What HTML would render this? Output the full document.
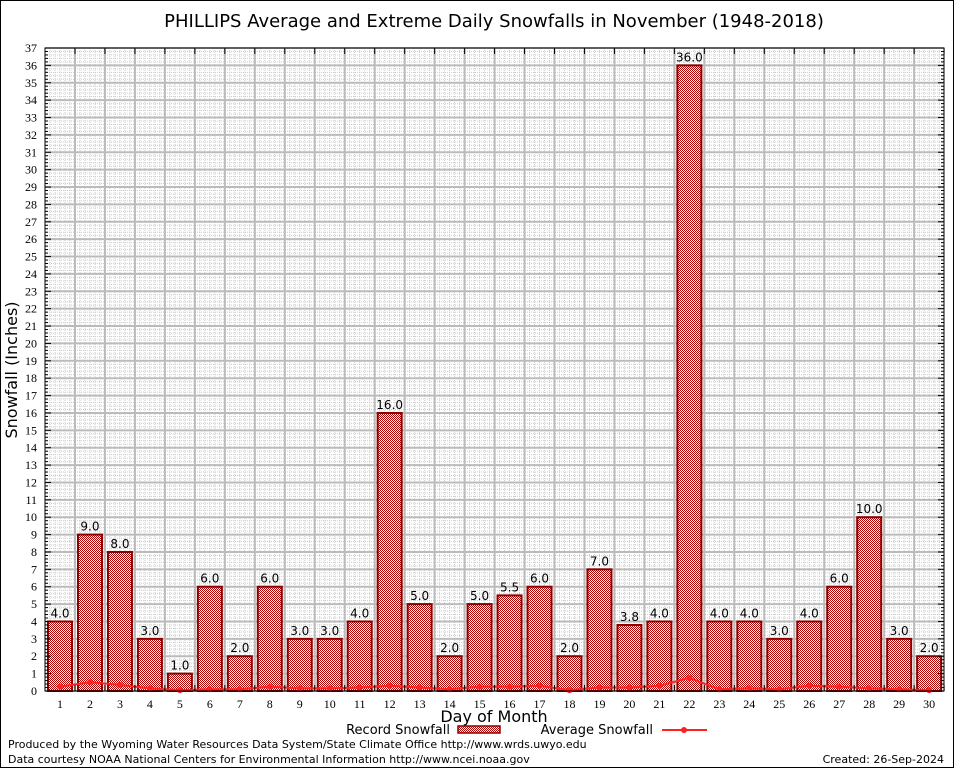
<!DOCTYPE html>
<html><head><meta charset="utf-8"><style>
body{margin:0;background:#fff}
svg text{font-family:"DejaVu Sans","Liberation Sans",sans-serif}
</style></head><body>
<svg id="c" width="954" height="768" xmlns="http://www.w3.org/2000/svg">
<defs>
<pattern id="hatch" width="2" height="2" patternUnits="userSpaceOnUse">
<rect width="2" height="2" fill="#fff"/><rect width="1" height="1" fill="#b00000"/><rect x="1" y="1" width="1" height="1" fill="#b00000"/>
</pattern>
</defs>
<rect x="0.5" y="0.5" width="953" height="767" fill="#fff" stroke="#000"/>
<text x="494" y="27" font-size="18" text-anchor="middle">PHILLIPS Average and Extreme Daily Snowfalls in November (1948-2018)</text>
<g id="grid"></g>
<g id="bars"></g>
<g id="avg"></g>
<g id="axes"></g>
<text x="17" y="370" font-size="16" text-anchor="middle" transform="rotate(-90 17 370)">Snowfall (Inches)</text>
<text x="494" y="722" font-size="16" text-anchor="middle">Day of Month</text>
<g>
<text x="450" y="734" font-size="13" text-anchor="end">Record Snowfall</text>
<rect x="458" y="726" width="42" height="7" fill="url(#hatch)" stroke="#8b0000" stroke-width="1.5"/>
<text x="653" y="734" font-size="13" text-anchor="end">Average Snowfall</text>
<line x1="662" y1="730" x2="707" y2="730" stroke="#ff2020" stroke-width="2"/>
<circle cx="684" cy="730" r="3" fill="#ff2020"/>
</g>
<text x="8" y="748" font-size="11">Produced by the Wyoming Water Resources Data System/State Climate Office http://www.wrds.uwyo.edu</text>
<text x="8" y="763" font-size="11">Data courtesy NOAA National Centers for Environmental Information http://www.ncei.noaa.gov</text>
<text x="944" y="763" font-size="11" text-anchor="end">Created:  26-Sep-2024</text>
</svg>
<script>
const days=[1,2,3,4,5,6,7,8,9,10,11,12,13,14,15,16,17,18,19,20,21,22,23,24,25,26,27,28,29,30];
const records=[4,9,8,3,1,6,2,6,3,3,4,16,5,2,5,5.5,6,2,7,3.8,4,36,4,4,3,4,6,10,3,2];
const averages=[0.25,0.5,0.35,0.15,0.05,0.1,0.1,0.25,0.15,0.15,0.2,0.3,0.2,0.1,0.25,0.25,0.3,0.05,0.2,0.2,0.3,0.75,0.1,0.15,0.1,0.3,0.25,0.15,0.1,0.05];
const yTicks=[0,1,2,3,4,5,6,7,8,9,10,11,12,13,14,15,16,17,18,19,20,21,22,23,24,25,26,27,28,29,30,31,32,33,34,35,36,37];
const NS="http://www.w3.org/2000/svg";
const L=45,R=944,T=48,B=691,yMax=37;
const X=d=>60+(d-1)*29.97;
const Y=v=>B-(v/yMax)*(B-T);
function mk(tag,attrs,parent){const e=document.createElementNS(NS,tag);for(const k in attrs)e.setAttribute(k,attrs[k]);parent.appendChild(e);return e;}
const grid=document.getElementById('grid'),bars=document.getElementById('bars'),avg=document.getElementById('avg'),axes=document.getElementById('axes');
// minor grid
for(let i=0;i<yMax*5;i++){const y=Y(i/5);if(i%5)mk('line',{x1:L,x2:R,y1:y,y2:y,stroke:'#ccc','stroke-width':1,'stroke-dasharray':'1,1'},grid);}
for(let d=0;d<=days.length;d++){for(let k=1;k<6;k++){const x=X(d+0.5)+k*29.97/6;if(x<R)mk('line',{x1:x,x2:x,y1:T,y2:B,stroke:'#ccc','stroke-width':1,'stroke-dasharray':'1,1'},grid);}}
yTicks.forEach(v=>{const y=Y(v);
const g=mk('line',{x1:L,x2:R,y1:y,y2:y,stroke:'#bbb','stroke-width':2},grid);


const t=mk('text',{x:37,y:y+4,'font-size':12,'text-anchor':'end','style':'font-family:"Liberation Serif",serif'},axes);t.textContent=v;


mk('line',{x1:L,x2:L+6,y1:y,y2:y,stroke:'#000'},axes);mk('line',{x1:R-6,x2:R,y1:y,y2:y,stroke:'#000'},axes);
if(v<yMax)for(let k=1;k<5;k++){const yy=Y(v+k/5);mk('line',{x1:L,x2:L+3,y1:yy,y2:yy,stroke:'#000'},axes);mk('line',{x1:R-3,x2:R,y1:yy,y2:yy,stroke:'#000'},axes);}
});
days.forEach((d,i)=>{const x=X(d+0.5);if(i<days.length-1){const g=mk('line',{x1:x,x2:x,y1:T,y2:B,stroke:'#bbb','stroke-width':2},grid);

}
mk('line',{x1:x,x2:x,y1:T,y2:T+6,stroke:'#000'},axes);mk('line',{x1:x,x2:x,y1:B-6,y2:B,stroke:'#000'},axes);
const t=mk('text',{x:X(d),y:708,'font-size':12,'text-anchor':'middle','style':'font-family:"Liberation Serif",serif'},axes);t.textContent=d;


});
mk('rect',{x:L,y:T,width:R-L,height:B-T,fill:'none',stroke:'#000','stroke-width':1},axes);
records.forEach((v,i)=>{const x=X(days[i]);
const r=mk('rect',{x:x-12,y:Y(v),width:24,height:B-Y(v),fill:'url(#hatch)',stroke:'#8b0000','stroke-width':2},bars);


const t=mk('text',{x:x,y:Y(v)-4,'font-size':12,'text-anchor':'middle'},bars);t.textContent=v.toFixed(1);


});
const pts=averages.map((v,i)=>X(days[i])+','+Y(v)).join(' ');
const pl=mk('polyline',{points:pts,fill:'none',stroke:'#ff2020','stroke-width':2},avg);


averages.forEach((v,i)=>{const c=mk('circle',{cx:X(days[i]),cy:Y(v),r:3,fill:'#ff2020'},avg);

});
</script>
</body></html>
